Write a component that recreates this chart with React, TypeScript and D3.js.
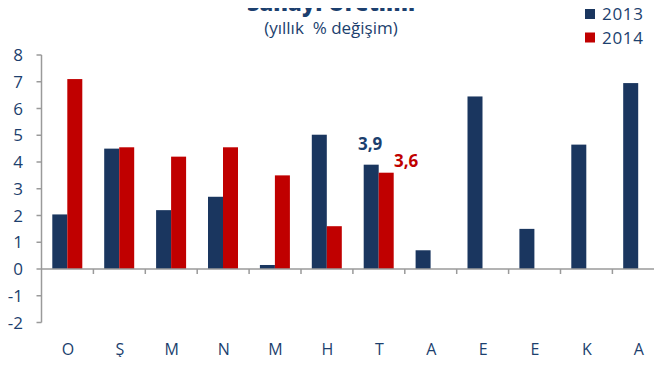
import React from "react";
import * as d3 from "d3";

const categories = ["O", "Ş", "M", "N", "M", "H", "T", "A", "E", "E", "K", "A"];
const series2013 = [2.04, 4.5, 2.2, 2.7, 0.15, 5.02, 3.9, 0.7, 6.45, 1.5, 4.65, 6.95];
const series2014: (number | null)[] = [7.1, 4.55, 4.2, 4.55, 3.5, 1.6, 3.6, null, null, null, null, null];
const yTicks = [-2, -1, 0, 1, 2, 3, 4, 5, 6, 7, 8];
const seriesNames = ["2013", "2014"];
const annotations = [
  { index: 6, series: 0, text: "3,9" },
  { index: 6, series: 1, text: "3,6" },
];

const W = 662;
const H = 365;
const NAVY = "#1a365f";
const RED = "#c00000";
const TEXT = "#1c3f6e";
const AXIS = "#9a9a9a";
const FONT = "'Open Sans', 'DejaVu Sans', sans-serif";

export default function App() {
  const x0 = 41.5;
  const band = 51.9;
  const x = d3
    .scaleBand<number>()
    .domain(d3.range(categories.length))
    .range([x0, x0 + band * categories.length])
    .paddingInner(0)
    .paddingOuter(0);
  const y = d3.scaleLinear().domain([-2, 8]).range([322.5, 55]);
  const barW = 15;
  const groupOffset = 10.8;
  const colors = [NAVY, RED];
  const data = [series2013, series2014];

  return (
    <div style={{ margin: -8, width: W, height: H, overflow: "hidden" }}>
      <svg width={W} height={H} style={{ display: "block", fontFamily: FONT }}>
        <rect x={0} y={0} width={W} height={H} fill="#ffffff" />
        <rect x={0} y={359} width={W} height={6} fill="#e9e8f5" />
        {/* title */}
        <text x={331} y={11} textAnchor="middle" fontSize={22} fontWeight={800} fill={TEXT}>
          Sanayi Üretimi
        </text>
        <text x={331} y={34} textAnchor="middle" fontSize={17} fill={TEXT} style={{ whiteSpace: "pre" }}>
          (yıllık  % değişim)
        </text>
        {/* legend */}
        {seriesNames.map((n, i) => (
          <g key={n}>
            <rect x={585} y={9 + i * 23.5} width={10} height={10} fill={colors[i]} />
            <text x={602} y={20 + i * 23.5} fontSize={17} fill={TEXT} letterSpacing={0.7}>
              {n}
            </text>
          </g>
        ))}
        {/* bars */}
        {data.map((s, si) =>
          s.map((v, i) =>
            v == null ? null : (
              <rect
                key={`${si}-${i}`}
                x={(x(i) as number) + groupOffset + si * barW}
                y={y(Math.max(v, 0))}
                width={barW}
                height={Math.abs(y(v) - y(0))}
                fill={colors[si]}
              />
            )
          )
        )}
        {/* y axis */}
        <line x1={x0} x2={x0} y1={y(8)} y2={y(-2)} stroke={AXIS} strokeWidth={1.5} />
        {yTicks.map((t) => (
          <g key={t}>
            <line x1={x0 - 5} x2={x0} y1={y(t)} y2={y(t)} stroke={AXIS} strokeWidth={1.5} />
            <text x={23} y={y(t) + 6} textAnchor="end" fontSize={17} fill={TEXT}>
              {t}
            </text>
          </g>
        ))}
        {/* zero line */}
        <line x1={x0} x2={W} y1={y(0)} y2={y(0)} stroke={AXIS} strokeWidth={1.5} />
        {d3.range(1, categories.length + 1).map((i) => (
          <line
            key={i}
            x1={x0 + band * i}
            x2={x0 + band * i}
            y1={y(0)}
            y2={y(0) + 5}
            stroke={AXIS}
            strokeWidth={1.5}
          />
        ))}
        {categories.map((c, i) => (
          <text
            key={i}
            x={(x(i) as number) + band / 2 + 0.5}
            y={355}
            textAnchor="middle"
            fontSize={16}
            fill={TEXT}
          >
            {c}
          </text>
        ))}
        {annotations.map((a, k) => {
          const v = data[a.series][a.index] as number;
          const barCenter = (x(a.index) as number) + groupOffset + a.series * barW + barW / 2;
          return (
            <text
              key={k}
              x={a.series === 0 ? barCenter - 1 : barCenter + 20}
              y={a.series === 0 ? y(v) - 15 : y(v) - 6}
              textAnchor="middle"
              fontSize={17}
              fontWeight="bold"
              fill={a.series === 0 ? TEXT : RED}
            >
              {a.text}
            </text>
          );
        })}
      </svg>
    </div>
  );
}
